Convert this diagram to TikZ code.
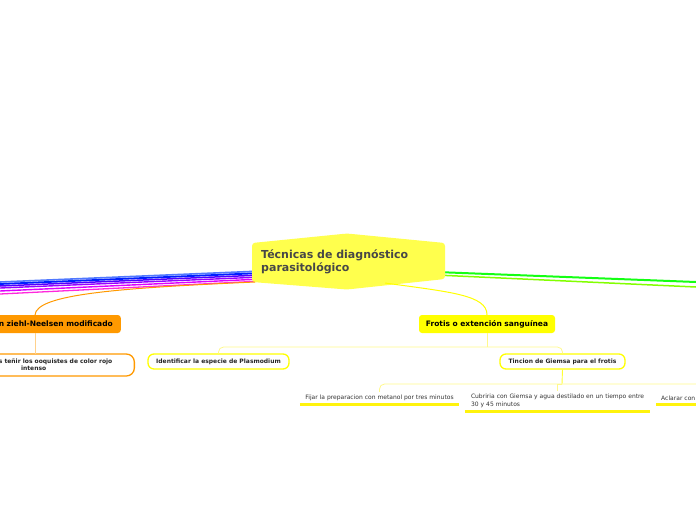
\documentclass[tikz,border=0pt]{standalone}
\usepackage{fontspec}
\setmainfont{DejaVu Sans}
\begin{document}
\begin{tikzpicture}[x=1pt,y=-1pt,
  title/.style={font=\bfseries\fontsize{11}{13}\selectfont, text=black!72, align=left, inner sep=0pt},
  mainbox/.style={rounded corners=3pt, font=\bfseries\fontsize{7.5}{9}\selectfont, text=black, minimum height=18pt, inner sep=0pt},
  subbox/.style={rounded corners=6pt, line width=1.3pt, fill=white, font=\bfseries\fontsize{6}{7}\selectfont, text=black!85, minimum height=15pt, inner sep=0pt},
  leaf/.style={font=\fontsize{6}{8}\selectfont, text=black!80, inner ysep=3pt},
  uline/.style={draw=yellow!95!white, line width=3pt},
  thin/.style={draw=yellow!45!white, line width=0.8pt},
]
\definecolor{ttl}{HTML}{FFFF4D}
\definecolor{org}{HTML}{FF9900}
\definecolor{ylw}{HTML}{FFFF00}
\useasboundingbox (0,0) rectangle (696,520);
\clip (0,0) rectangle (696,520);

% left branch lines
\coordinate (l1) at (0,282);
\coordinate (l2) at (0,284);
\coordinate (l3) at (0,286);
\coordinate (l4) at (0,288);
\coordinate (l5) at (0,291);
\coordinate (l6) at (0,294);
\coordinate (r1) at (696,282);
\coordinate (r2) at (696,287);
\coordinate (cl1) at (262,271);
\coordinate (cl2) at (262,273);
\coordinate (cl3) at (262,275);
\coordinate (cl4) at (262,277);
\coordinate (cl5) at (262,279);
\coordinate (cl6) at (262,281);
\coordinate (cr1) at (436,272);
\coordinate (cr2) at (436,275);
\draw[color={rgb,255:red,80;green,120;blue,255}, line width=1.6pt] (cl1) -- (l1);
\draw[color={rgb,255:red,0;green,30;blue,255}, line width=1.8pt] (cl2) -- (l2);
\draw[color={rgb,255:red,80;green,0;blue,255}, line width=1.5pt] (cl3) -- (l3);
\draw[color={rgb,255:red,150;green,0;blue,255}, line width=1.4pt] (cl4) -- (l4);
\draw[color={rgb,255:red,220;green,0;blue,255}, line width=1.4pt] (cl5) -- (l5);
\draw[color={rgb,255:red,255;green,40;blue,220}, line width=1.3pt] (cl6) -- (l6);
\draw[color={rgb,255:red,20;green,255;blue,20}, line width=2pt] (cr1) -- (r1);
\draw[color={rgb,255:red,130;green,255;blue,0}, line width=1.5pt] (cr2) -- (r2);

% central node
\fill[ttl, rounded corners=3pt] (252,243) -- (347,233.5) -- (445,243) -- (445,279) -- (347,289.5) -- (252,282) -- cycle;
\node[title, anchor=north west] (c) at (261,249) {Técnicas de diagnóstico\\parasitológico};
\coordinate (co) at (255,282);
\coordinate (cy) at (385,283);

% left orange branch
\node[mainbox, fill=org, anchor=east] (zn) at (121,324) {\hspace*{40pt}n ziehl-Neelsen modificado\hspace*{8pt}};
\draw[org, line width=1pt] (co) .. controls (120,288) and (36,294) .. (35,315);
\node[subbox, draw=org, anchor=east, align=center, minimum height=22pt, inner xsep=22pt, rounded corners=8pt] (zc) at (135,365) {\hspace*{44pt}s teñir los ooquistes de color rojo\\intenso};
\draw[draw=org!45!white, line width=0.8pt] (35,333) -- (35,354);

% right yellow branch
\node[mainbox, fill=ylw, minimum width=136pt] (fr) at (487,324) {Frotis o extención sanguínea};
\draw[ylw, line width=1pt] (cy) .. controls (450,292) and (487,295) .. (fr.north);
\node[subbox, draw=ylw, minimum width=141pt] (id) at (218.5,361.5) {Identificar la especie de Plasmodium};
\node[subbox, draw=ylw, minimum width=125pt] (tg) at (562.5,361.5) {Tincion de Giemsa para el frotis};
\coordinate (fb) at (487,347);
\draw[thin] (fr.south) -- (fb);
\draw[thin, rounded corners=5pt] (fb) -| (id.north);
\draw[thin, rounded corners=5pt] (fb) -| (tg.north);

% leaves
\node[leaf, anchor=south, minimum width=159pt] (fj) at (379.5,404) {Fijar la preparacion con metanol por tres minutos};
\node[leaf, anchor=south, text width=173pt, inner xsep=6pt, align=left] (cu) at (557.5,411) {\mbox{Cubriria con Giemsa y agua destilado en un tiempo entre}\\30 y 45 minutos};
\node[leaf, anchor=south west, inner xsep=5pt, text width=80pt, align=left] (ac) at (656,404) {Aclarar con};
\draw[uline] (fj.south west) -- (fj.south east);
\draw[uline] (cu.south west) -- (cu.south east);
\draw[uline] (ac.south west) -- (ac.south east);
\coordinate (tb) at (562,384);
\draw[draw=ylw!80!white, line width=0.9pt] (tg.south) -- (tb);
\draw[thin, rounded corners=5pt] (tb) -| (fj.north);
\draw[thin] (tb) -| (cu.north);
\draw[thin, rounded corners=5pt] (tb) -| (ac.north);
\end{tikzpicture}
\end{document}
